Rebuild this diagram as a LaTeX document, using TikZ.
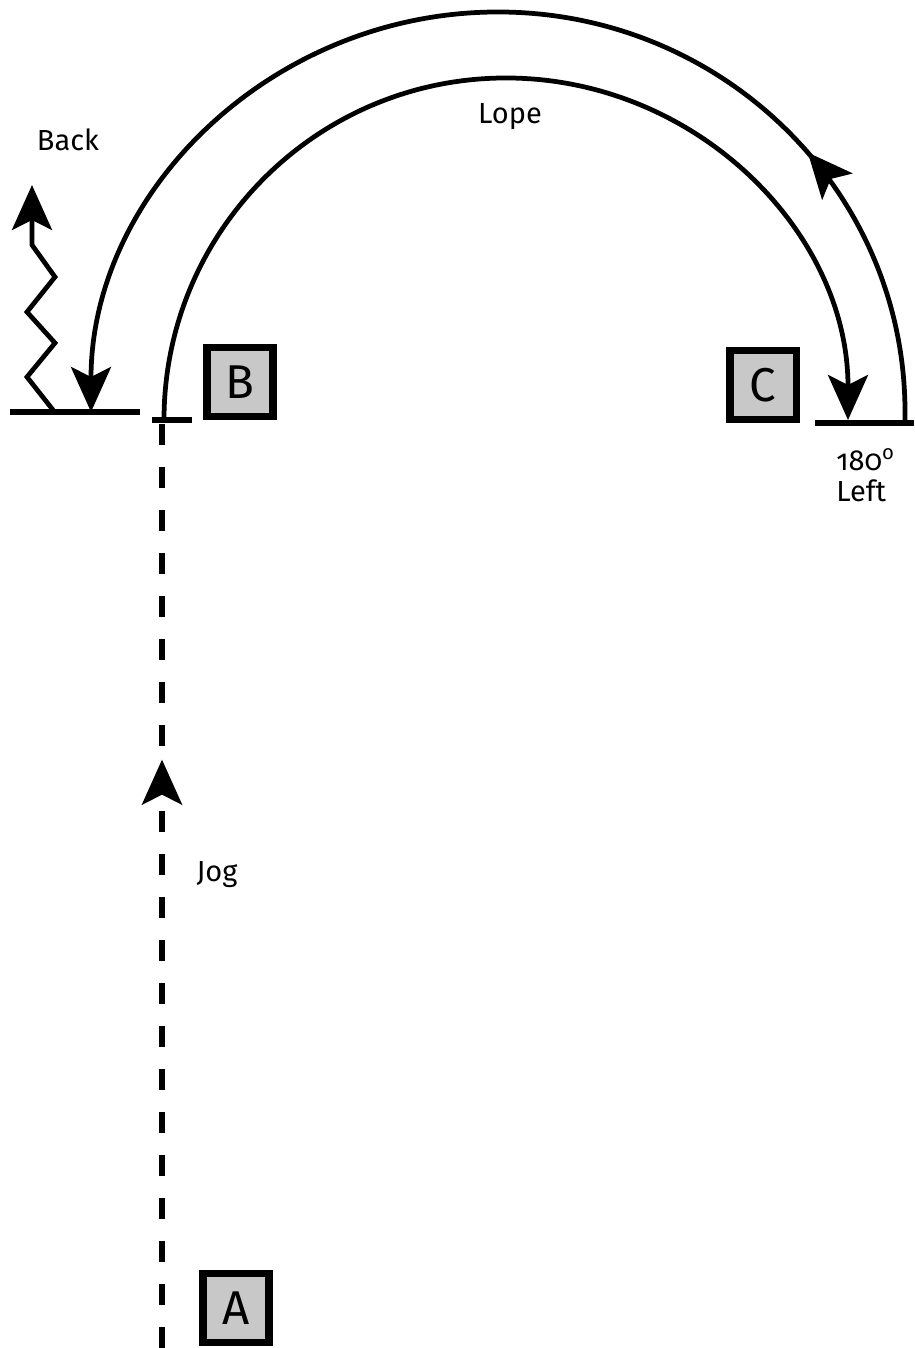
\documentclass[tikz,border=0pt]{standalone}
\usepackage{fontspec}
\setmainfont{Fira Sans}
\newfontfamily\oldnum[Numbers=OldStyle]{Fira Sans}
\usetikzlibrary{arrows.meta,positioning,decorations.markings}
\usepackage{xcolor}
\definecolor{cone}{HTML}{C8C8C8}

\begin{document}
\begin{tikzpicture}[x=0.02cm,y=0.02cm,
      font=\fontsize{16.5}{18}\selectfont,
      marker/.style={draw=black,line width=0.15cm,fill=cone,minimum width=1.33cm,minimum height=1.38cm,inner sep=0pt,font=\fontsize{27}{30}\selectfont},
      bar/.style={line width=0.11cm},
      track/.style={line width=0.095cm},
      tip/.style={-{Stealth[length=9mm,width=8mm,inset=2mm]}},
      midtip/.style={postaction={decorate},decoration={markings,mark=at position #1 with {\arrow{Stealth[length=9mm,width=8mm,inset=2mm]}}}},
      lbl/.style={inner sep=0pt,align=left}]

    \useasboundingbox (0,0) rectangle (914,1348);

    % cones
    \node[marker] (A) at (236,40) {A};
    \node[marker] (B) at (240,966) {B};
    \node[marker] (C) at (763,963) {C};

    % ground lines
    \coordinate (backL) at (10,936);
    \coordinate (backR) at (140,936);
    \coordinate (tickL) at (152,928);
    \coordinate (tickR) at (192,928);
    \coordinate (turnL) at (815,925);
    \coordinate (turnR) at (914,925);
    \draw[bar] (backL) -- (backR);
    \draw[bar] (tickL) -- (tickR);
    \draw[bar] (turnL) -- (turnR);

    % jog up the line
    \coordinate (start) at (162,0);
    \coordinate (tick) at (162,928);
    \draw[bar,dash pattern=on 0.42cm off 0.44cm,midtip=0.634] (start) -- (tick);

    % lope round
    \coordinate (innerS) at (164,928);
    \draw[track,tip] (innerS) arc[start angle=180,end angle=0,radius=342];

    % 180 left and back
    \coordinate (outerS) at (905,925);
    \draw[track,tip,midtip=0.23] (outerS) -- ++(0,11) arc[start angle=0,end angle=180,x radius=407,y radius=400];

    % back up
    \coordinate (zz) at (53,938);
    \draw[track,tip] (zz) -- (27,971) -- (55,1005) -- (27,1036) -- (55,1071) -- (32,1103) -- (32,1163);

    % labels
    \node[lbl] (back) at (68,1208) {Back};
    \node[lbl] (lope) at (510,1231) {Lope};
    \node[lbl] (jog) at (217,473) {Jog};
    \node[lbl,anchor=north west] (turn) at (836,900) {\oldnum 180\textsuperscript{o}\\Left};
  \end{tikzpicture}
\end{document}
